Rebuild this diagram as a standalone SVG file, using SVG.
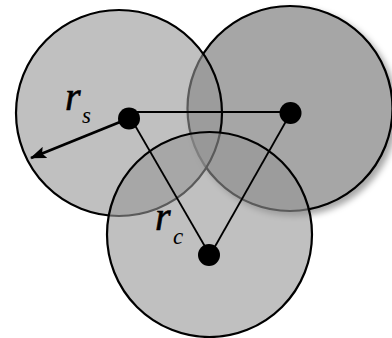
<svg xmlns="http://www.w3.org/2000/svg" width="392" height="338" viewBox="0 0 392 338">
<style>
.c{stroke:#000;stroke-width:2.2}
.t{fill:#969696;fill-opacity:0.6}
.ln{stroke:#000;stroke-width:1.8;fill:none}
.dot{fill:#000}
.lab{font-family:"Liberation Serif",serif;font-style:italic;fill:#000}
.big{font-size:40px;stroke:#000;stroke-width:0.6}
.sub{font-size:23px}
</style>
<defs>
<filter id="sh" x="-20%" y="-20%" width="150%" height="150%">
<feDropShadow dx="4" dy="4" stdDeviation="3" flood-color="#000" flood-opacity="0.35"/>
</filter>
<marker id="ah2" viewBox="0 0 16 12" refX="15" refY="6" markerWidth="16" markerHeight="12" orient="auto" markerUnits="userSpaceOnUse">
<path d="M0,0 L16,6 L0,12 L3,6 Z" fill="#000"/>
</marker>
</defs>
<g id="circle-right"><circle cx="290" cy="108.5" r="102.5" fill="#a6a6a6" class="c" filter="url(#sh)"/></g>
<g id="circle-left"><circle cx="119" cy="113" r="103" class="c t"/></g>
<g id="circle-bottom"><circle cx="209.5" cy="234.5" r="102.5" class="c t"/></g>
<g id="connectors">
<line x1="129" y1="112" x2="290" y2="112" class="ln"/>
<line x1="133" y1="122" x2="207" y2="250" class="ln"/>
<line x1="289" y1="116" x2="213" y2="250" class="ln"/>
<line x1="120" y1="122" x2="31" y2="158" stroke="#000" stroke-width="2.8" marker-end="url(#ah2)"/>
</g>
<g id="node-s"><circle cx="129" cy="118.5" r="11" class="dot"/></g>
<g id="node-r"><circle cx="290.5" cy="113" r="11" class="dot"/></g>
<g id="node-c"><circle cx="209" cy="255" r="11" class="dot"/></g>
<g id="label-rs"><text x="65" y="110" class="lab big">r</text><text x="82" y="123" class="lab sub">s</text></g>
<g id="label-rc"><text x="155" y="230" class="lab big">r</text><text x="173" y="244" class="lab sub">c</text></g>
</svg>
